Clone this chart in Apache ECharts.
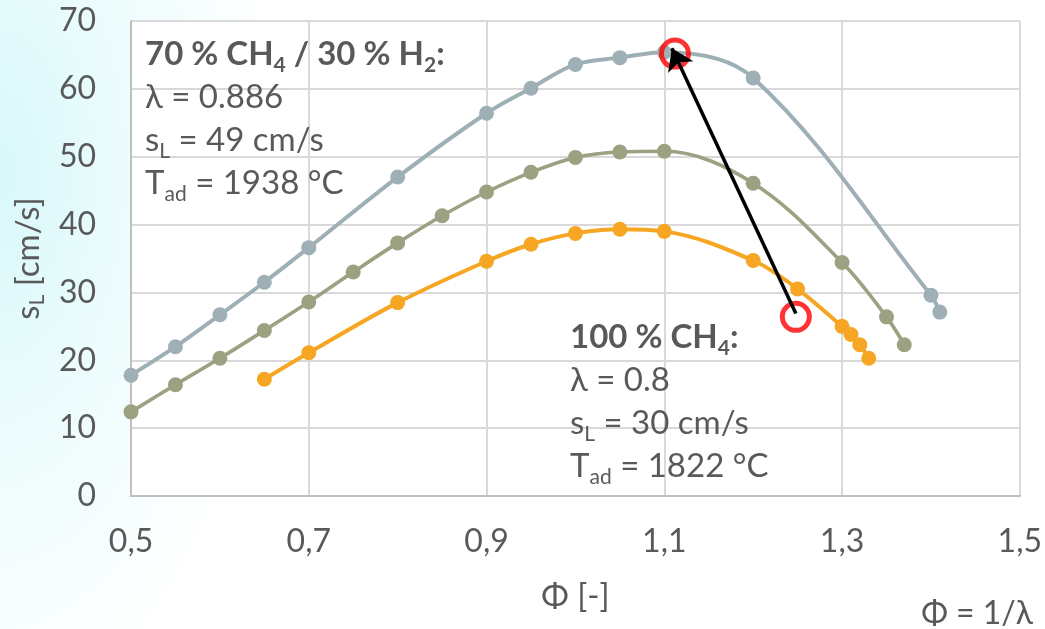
<!DOCTYPE html>
<html>
<head>
<meta charset="utf-8">
<script src="https://cdn.jsdelivr.net/npm/echarts@6/dist/echarts.min.js"></script>
<style>
html,body{margin:0;padding:0;width:1045px;height:629px;overflow:hidden;
background: radial-gradient(ellipse 280px 560px at 0px 170px, #d8f8fb 0%, #ecfcfd 45%, #ffffff 100%);}
#c{width:1045px;height:629px;}
</style>
</head>
<body>
<div id="c"></div>
<script>
// ---- data ----
const xTicks = [0.5, 0.7, 0.9, 1.1, 1.3, 1.5];
const yTicks = [0, 10, 20, 30, 40, 50, 60, 70];

const phiGray = [0.5, 0.55, 0.6, 0.65, 0.7, 0.8, 0.9, 0.95, 1.0, 1.05, 1.1, 1.2, 1.4, 1.41];
const sLGray  = [17.8, 22.0, 26.7, 31.5, 36.6, 47.0, 56.4, 60.1, 63.6, 64.6, 65.4, 61.6, 29.6, 27.1];

const phiOlive = [0.5, 0.55, 0.6, 0.65, 0.7, 0.75, 0.8, 0.85, 0.9, 0.95, 1.0, 1.05, 1.1, 1.2, 1.3, 1.35, 1.37];
const sLOlive  = [12.4, 16.4, 20.3, 24.4, 28.6, 33.0, 37.3, 41.3, 44.8, 47.7, 49.9, 50.7, 50.8, 46.1, 34.4, 26.4, 22.3];

const phiOrange = [0.65, 0.7, 0.8, 0.9, 0.95, 1.0, 1.05, 1.1, 1.2, 1.25, 1.3, 1.31, 1.32, 1.33];
const sLOrange  = [17.2, 21.1, 28.5, 34.6, 37.1, 38.7, 39.3, 39.0, 34.7, 30.5, 25.0, 23.8, 22.3, 20.3];

const circleHi = [1.112, 65.2];
const circleLo = [1.248, 26.4];
const arrowFrom = [1.248, 26.9];
const arrowTo   = [1.1085, 66.0];

// ---- styling ----
const FONT = "Lato, 'Noto Sans', 'DejaVu Sans', sans-serif";
const TXT = '#595959';
const C_GRAY = '#9eb0b6';
const C_OLIVE = '#9ba281';
const C_ORANGE = '#f6a623';

function pairs(xs, ys) { return xs.map((x, i) => [x, ys[i]]); }

function lineSeries(name, xs, ys, color, width) {
  return {
    name, type: 'line', data: pairs(xs, ys), smooth: 0.35,
    symbol: 'circle', symbolSize: 15, showSymbol: true,
    lineStyle: { color, width }, itemStyle: { color },
    silent: true, animation: false
  };
}

const mainRich = {
  b:  { fontFamily: FONT, fontSize: 33, fontWeight: 'bold', fill: TXT, lineHeight: 43 },
  bs: { fontFamily: FONT, fontSize: 21, fontWeight: 'bold', fill: TXT, lineHeight: 18, verticalAlign: 'bottom' },
  n:  { fontFamily: FONT, fontSize: 33, fill: TXT, lineHeight: 43 },
  s:  { fontFamily: FONT, fontSize: 21, fill: TXT, lineHeight: 18, verticalAlign: 'bottom' }
};

const chart = echarts.init(document.getElementById('c'), null, { renderer: 'canvas' });
chart.setOption({
  animation: false,
  backgroundColor: 'transparent',
  grid: { left: 125, right: 21, top: 21, bottom: 133, show: true, backgroundColor: '#ffffff', borderWidth: 0 },
  xAxis: {
    type: 'value', min: xTicks[0], max: xTicks[xTicks.length - 1], interval: 0.2,
    axisLine: { show: true, lineStyle: { color: '#bfbfbf', width: 2 } },
    axisTick: { show: false },
    splitLine: { show: true, lineStyle: { color: '#d9d9d9', width: 2 } },
    axisLabel: { fontFamily: FONT, fontSize: 32, color: TXT, margin: 30,
      formatter: v => v.toFixed(1).replace('.', ',') },
    name: 'Φ [-]', nameLocation: 'middle', nameGap: 84,
    nameTextStyle: { fontFamily: FONT, fontSize: 33, color: TXT }
  },
  yAxis: {
    type: 'value', min: yTicks[0], max: yTicks[yTicks.length - 1], interval: 10,
    axisLine: { show: true, lineStyle: { color: '#bfbfbf', width: 2 } },
    axisTick: { show: false },
    splitLine: { show: true, lineStyle: { color: '#d9d9d9', width: 2 } },
    axisLabel: { fontFamily: FONT, fontSize: 32, color: TXT, margin: 35 },
    name: 's{sub|L} [cm/s]', nameLocation: 'middle', nameGap: 79,
    nameTextStyle: { fontFamily: FONT, fontSize: 33, color: TXT, lineHeight: 40,
      rich: { sub: { fontFamily: FONT, fontSize: 21, color: TXT, lineHeight: 16, verticalAlign: 'bottom' } } }
  },
  series: [
    lineSeries('70 % CH4 / 30 % H2 (a)', phiGray, sLGray, C_GRAY, 4),
    lineSeries('70 % CH4 / 30 % H2 (b)', phiOlive, sLOlive, C_OLIVE, 3.6),
    lineSeries('100 % CH4', phiOrange, sLOrange, C_ORANGE, 4),
    {
      type: 'scatter', data: [circleHi, circleLo], symbol: 'circle', symbolSize: 27,
      itemStyle: { color: 'rgba(0,0,0,0)', borderColor: '#ff0000', borderWidth: 5 },
      silent: true, z: 10, animation: false
    },
    {
      type: 'lines', coordinateSystem: 'cartesian2d', z: 12,
      data: [{ coords: [arrowFrom, arrowTo] }],
      symbol: ['none', 'arrow'], symbolSize: 21,
      lineStyle: { color: '#000000', width: 3.5, opacity: 1, curveness: 0 },
      silent: true, animation: false
    }
  ],
  graphic: [
    {
      type: 'text', x: 145, y: 33, z: 20, silent: true,
      style: {
        text: '{b|70 % CH}{bs|4}{b| / 30 % H}{bs|2}{b|:}\n{n|λ = 0.886}\n{n|s}{s|L}{n| = 49 cm/s}\n{n|T}{s|ad}{n| = 1938 °C}',
        rich: mainRich, fill: TXT, font: '33px ' + FONT, verticalAlign: 'top', align: 'left'
      }
    },
    {
      type: 'text', x: 570, y: 316, z: 20, silent: true,
      style: {
        text: '{b|100 % CH}{bs|4}{b|:}\n{n|λ = 0.8}\n{n|s}{s|L}{n| = 30 cm/s}\n{n|T}{s|ad}{n| = 1822 °C}',
        rich: mainRich, fill: TXT, font: '33px ' + FONT, verticalAlign: 'top', align: 'left'
      }
    },
    {
      type: 'text', x: 1033, y: 614, z: 20, silent: true,
      style: { text: 'Φ = 1/λ', fill: TXT, font: '32px ' + FONT, align: 'right', verticalAlign: 'middle' }
    }
  ]
});
</script>
</body>
</html>
